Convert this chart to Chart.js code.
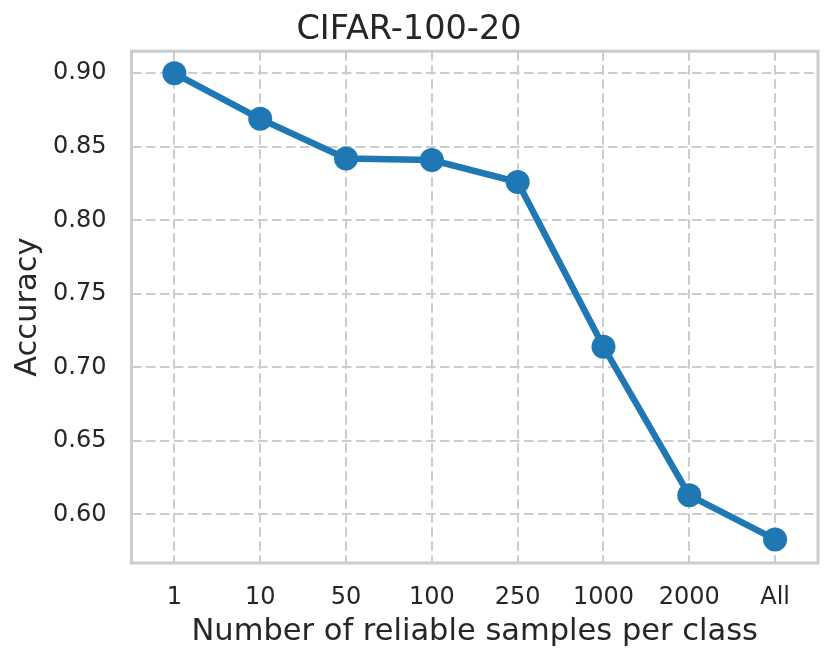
<!DOCTYPE html>
<html>
<head>
<meta charset="utf-8">
<script src="https://cdn.jsdelivr.net/npm/chart.js@4/dist/chart.umd.min.js"></script>
<style>
html,body{margin:0;padding:0;background:#fff;}
#wrap{width:831px;height:663px;}
</style>
</head>
<body>
<div id="wrap"><canvas id="c" width="831" height="663"></canvas></div>
<script>
const categories = ["1", "10", "50", "100", "250", "1000", "2000", "All"];
const accuracy = [0.900, 0.869, 0.842, 0.841, 0.826, 0.714, 0.613, 0.583];
const yTicks = [0.60, 0.65, 0.70, 0.75, 0.80, 0.85, 0.90];

const TEXT = '#262626';
const GRID = '#cccccc';
const BLUE = '#1f77b4';
const FONT = "'DejaVu Sans', sans-serif";

const framePlugin = {
  id: 'frame',
  beforeDatasetsDraw(chart) {
    const {ctx, chartArea: a} = chart;
    ctx.save();
    ctx.strokeStyle = GRID;
    ctx.lineWidth = 3;
    ctx.setLineDash([]);
    ctx.strokeRect(a.left, a.top, a.right - a.left, a.bottom - a.top);
    ctx.restore();
  }
};

new Chart(document.getElementById('c'), {
  type: 'line',
  data: {
    labels: categories,
    datasets: [{
      data: accuracy,
      borderColor: BLUE,
      backgroundColor: BLUE,
      borderWidth: 6.5,
      pointRadius: 12,
      pointHoverRadius: 12,
      pointBackgroundColor: BLUE,
      pointBorderWidth: 0,
      tension: 0,
      clip: false
    }]
  },
  options: {
    responsive: false,
    animation: false,
    devicePixelRatio: 1,
    layout: { padding: { left: 0, right: 13, top: 0, bottom: 0 } },
    plugins: {
      legend: { display: false },
      tooltip: { enabled: false },
      title: {
        display: true,
        text: 'CIFAR-100-20',
        color: TEXT,
        font: { family: FONT, size: 33.5, weight: 'normal' },
        padding: { top: 10, bottom: 1 }
      }
    },
    scales: {
      x: {
        type: 'category',
        offset: true,
        grid: { color: GRID, lineWidth: 2, drawTicks: false, offset: false },
        border: { display: false, dash: [9.5, 4.5] },
        ticks: { color: TEXT, font: { family: FONT, size: 24 }, padding: 20, maxRotation: 0 },
        title: {
          display: true,
          text: 'Number of reliable samples per class',
          color: TEXT,
          font: { family: FONT, size: 30.5 },
          padding: { top: 0, bottom: 13 }
        },
        afterFit(scale) { scale.height = 100; }
      },
      y: {
        min: 0.567,
        max: 0.915,
        afterBuildTicks(scale) { scale.ticks = yTicks.map(v => ({ value: v })); },
        grid: { color: GRID, lineWidth: 2, drawTicks: false },
        border: { display: false, dash: [9.5, 4.5] },
        ticks: {
          color: TEXT,
          font: { family: FONT, size: 24 },
          padding: 25,
          callback: v => Number(v).toFixed(2)
        },
        title: {
          display: true,
          text: 'Accuracy',
          color: TEXT,
          font: { family: FONT, size: 30.5 },
          padding: { top: 10, bottom: 0 }
        },
        afterFit(scale) { scale.width = 131.5; }
      }
    }
  },
  plugins: [framePlugin]
});
</script>
</body>
</html>
